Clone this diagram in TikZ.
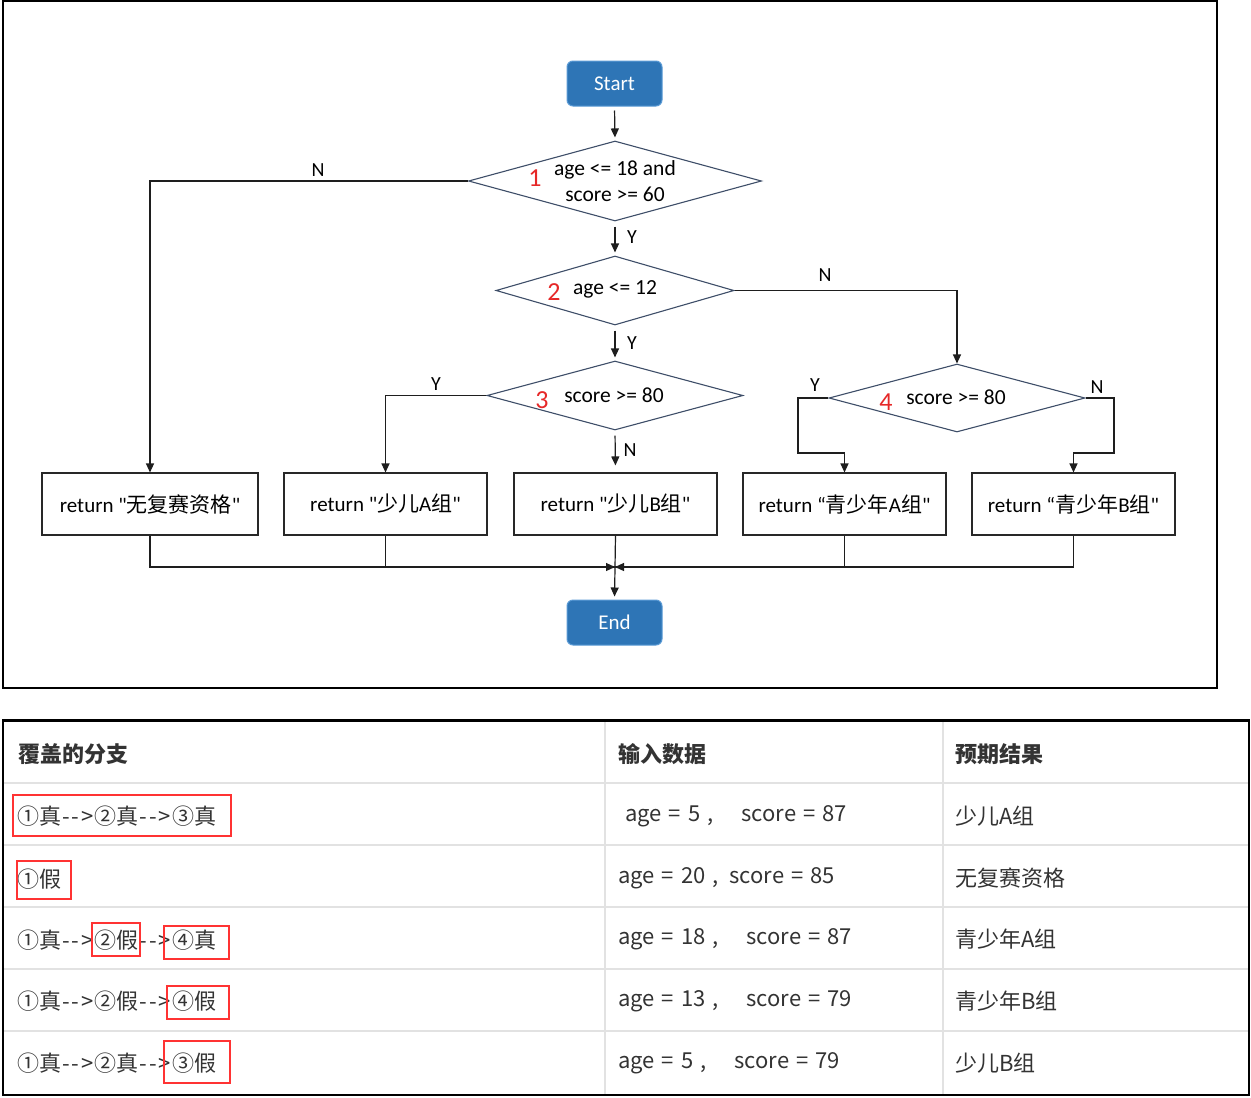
\documentclass[tikz,border=0pt]{standalone}
\usepackage{fontspec}
\setmainfont{Carlito}[Ligatures=TeXOff]
\newfontfamily\cjk{Noto Sans CJK SC}[Ligatures=TeXOff]
\usetikzlibrary{arrows.meta,shapes.geometric}
\definecolor{termfill}{RGB}{46,117,182}
\definecolor{termdraw}{RGB}{91,155,213}
\definecolor{diadraw}{RGB}{62,78,104}
\definecolor{boxdraw}{RGB}{40,40,40}
\definecolor{linec}{RGB}{30,30,30}
\definecolor{numred}{RGB}{230,40,40}
\definecolor{gridc}{RGB}{226,226,226}
\definecolor{txtc}{RGB}{51,51,51}
\definecolor{markred}{RGB}{255,51,51}
\newcommand{\darr}{\kern1pt-\kern2pt-\kern2pt>\kern1pt}
\newcommand{\wsp}{\spaceskip=7pt\relax}
\tikzset{
  term/.style={rectangle, rounded corners=6pt, fill=termfill, draw=termdraw, line width=1pt,
    minimum width=95pt, minimum height=45pt, inner sep=0pt, text=white,
    font=\fontsize{21}{24}\selectfont},
  dia/.style={diamond, draw=diadraw, line width=1.1pt, inner sep=0pt},
  ret/.style={rectangle, draw=boxdraw, line width=1.1pt, minimum height=62pt, inner sep=0pt,
    font=\fontsize{21}{24}\selectfont},
  ftxt/.style={inner sep=0pt, font=\fontsize{21.5}{26}\selectfont, align=center},
  num/.style={inner sep=0pt, text=numred, font=\fontsize{26}{28}\selectfont},
  yn/.style={inner sep=0pt, font=\fontsize{20}{24}\selectfont},
  conn/.style={draw=linec, line width=1.2pt},
  arr/.style={conn, -{Triangle[length=9pt,width=8pt]}},
  tcell/.style={inner sep=0pt, anchor=west, text=txtc, font=\cjk\fontsize{22}{24}\selectfont},
  thead/.style={inner sep=0pt, anchor=west, text=txtc, font=\cjk\bfseries\fontsize{22}{24}\selectfont},
  redmark/.style={draw=markred, line width=2.8pt}
}
\begin{document}
\begin{tikzpicture}[x=1pt,y=-1pt]
\useasboundingbox (0,0) rectangle (1251,1098);
\fill[white] (0,0) rectangle (1251,1098);
% frame of the flowchart
\draw[line width=1.2pt, black] (3,1) rectangle (1217,688);

% terminals
\node[term] (start) at (614.5,83.5) {Start};
\node[term] (end) at (614.5,622.5) {End};

% decisions
\node[dia, minimum width=293pt, minimum height=80pt] (d1) at (615,181) {};
\node[ftxt] (t1) at (615,181) {age <= 18 and\\score >= 60};
\node[num] (n1) at (535,178) {1};
\node[dia, minimum width=238pt, minimum height=69pt] (d2) at (615,290.5) {};
\node[ftxt] (t2) at (615,289) {age <= 12};
\node[num] (n2) at (554,292) {2};
\node[dia, minimum width=256pt, minimum height=69pt] (d3) at (615,395.5) {};
\node[ftxt] (t3) at (614,395) {score >= 80};
\node[num] (n3) at (542,400) {3};
\node[dia, minimum width=256pt, minimum height=68pt] (d4) at (957,398) {};
\node[ftxt] (t4) at (956,397) {score >= 80};
\node[num] (n4) at (886,402) {4};

% result boxes
\node[ret, minimum width=216pt] (b1) at (150,504) {return "{\cjk 无复赛资格}"};
\node[ret, minimum width=203pt] (b2) at (385.5,504) {return "{\cjk 少儿}A{\cjk 组}"};
\node[ret, minimum width=203pt] (b3) at (615.5,504) {return "{\cjk 少儿}B{\cjk 组}"};
\node[ret, minimum width=203pt] (b4) at (844.5,504) {return “{\cjk 青少年}A{\cjk 组}"};
\node[ret, minimum width=203pt] (b5) at (1073.5,504) {return “{\cjk 青少年}B{\cjk 组}"};

% connectors
\draw[arr, shorten <=4pt, shorten >=3pt] (start.south) -- (d1.north);
\draw[arr, shorten <=5pt, shorten >=3pt] (d1.south) -- (d2.north);
\node[yn] (y1) at (632,237) {Y};
\draw[arr, shorten <=5pt, shorten >=3pt] (d2.south) -- (d3.north);
\node[yn] (y2) at (632,343) {Y};
\draw[arr, shorten <=5pt, shorten >=7pt] (d3.south) -- (b3.north);
\node[yn] (n3l) at (630,450) {N};

\draw[arr] (d1.west) -| (b1.north);
\node[yn] (n1l) at (318,170) {N};
\draw[arr] (d2.east) -| (d4.north);
\node[yn] (n2l) at (825,275) {N};
\draw[arr] (d3.west) -| (b2.north);
\node[yn] (y3) at (436,384) {Y};

\coordinate (yl) at (798,453);
\coordinate (nr) at (1114,453);
\draw[arr] (d4.west) -| (yl) -| (b4.north);
\node[yn] (y4) at (815,385) {Y};
\draw[arr] (d4.east) -| (nr) -| (b5.north);
\node[yn] (n4l) at (1097,387) {N};

\coordinate (m) at (615,567);
\draw[arr] (b1.south) |- (m);
\draw[conn] (b2.south) |- (m);
\draw[arr] (b5.south) |- (m);
\draw[conn] (b4.south) |- (m);
\draw[arr, shorten >=3pt] (b3.south) -- (end.north);

% table
\draw[gridc, line width=1.6pt] (3,783) -- (1248,783);
\draw[gridc, line width=1.6pt] (3,845) -- (1248,845);
\draw[gridc, line width=1.6pt] (3,907) -- (1248,907);
\draw[gridc, line width=1.6pt] (3,969) -- (1248,969);
\draw[gridc, line width=1.6pt] (3,1031) -- (1248,1031);
\draw[gridc, line width=1.6pt] (605,721) -- (605,1094);
\draw[gridc, line width=1.6pt] (943,721) -- (943,1094);
\draw[black, line width=2.4pt] (3,720.5) rectangle (1249,1095);

\node[thead] (h1) at (18,754) {覆盖的分支};
\node[thead] (h2) at (618,754) {输入数据};
\node[thead] (h3) at (955,754) {预期结果};

\node[tcell] (c11) at (17,816) {①真\darr ②真\darr ③真};
\node[tcell] (c21) at (17,879) {①假};
\node[tcell] (c31) at (17,940) {①真\darr ②假\darr ④真};
\node[tcell] (c41) at (17,1001) {①真\darr ②假\darr ④假};
\node[tcell] (c51) at (17,1063) {①真\darr ②真\darr ③假};

\node[tcell] (c12) at (625,816) {\wsp age = 5 ,\hspace{28pt}score = 87};
\node[tcell] (c22) at (618,878) {\wsp age = 20 ,\hspace{11pt}score = 85};
\node[tcell] (c32) at (618,939) {\wsp age = 18 ,\hspace{28pt}score = 87};
\node[tcell] (c42) at (618,1001) {\wsp age = 13 ,\hspace{28pt}score = 79};
\node[tcell] (c52) at (618,1063) {\wsp age = 5 ,\hspace{28pt}score = 79};

\node[tcell] (c13) at (955,816) {少儿A组};
\node[tcell] (c23) at (955,878) {无复赛资格};
\node[tcell] (c33) at (955,939) {青少年A组};
\node[tcell] (c43) at (955,1001) {青少年B组};
\node[tcell] (c53) at (955,1063) {少儿B组};

% red marks
\draw[redmark] (13,795) rectangle (231,836);
\draw[redmark] (17,861) rectangle (71,899);
\draw[redmark] (92,923) rectangle (140,956);
\draw[redmark] (164,926) rectangle (229,959);
\draw[redmark] (167,986) rectangle (229,1019);
\draw[redmark] (164,1041) rectangle (230,1083);
\end{tikzpicture}
\end{document}
